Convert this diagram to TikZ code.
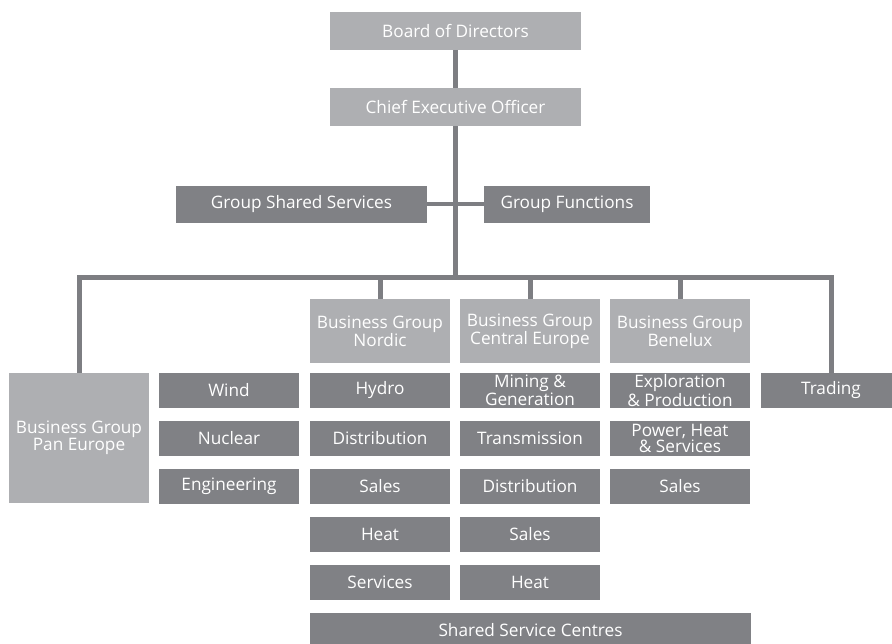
\documentclass[tikz,border=0pt]{standalone}
\usepackage{fontspec}
\setmainfont{Open Sans}
\definecolor{dk}{RGB}{128,129,133}
\definecolor{lt}{RGB}{174,175,178}
\definecolor{ln}{RGB}{125,126,130}
\begin{document}
\begin{tikzpicture}[x=1pt,y=-1pt,
  box/.style={inner sep=0pt, outer sep=0pt, text=white, align=center,
    font=\fontsize{17.2}{15.6}\selectfont, minimum height=35pt, minimum width=140pt},
  dbox/.style={box, fill=dk},
  lbox/.style={box, fill=lt},
  conn/.style={draw=ln, line width=5pt}]
\useasboundingbox (0,0) rectangle (892,644);
\clip (0,0) rectangle (892,644);
% top
\node[lbox, minimum width=251pt, minimum height=38pt] (bod) at (455.5,31) {Board of Directors};
\node[lbox, minimum width=251pt, minimum height=38pt] (ceo) at (455.5,107.5) {Chief Executive Officer};
\node[dbox, minimum width=251pt, minimum height=37pt] (gss) at (301.5,204.5) {Group Shared Services};
\node[dbox, minimum width=166pt, minimum height=37pt] (gf) at (567,204.5) {Group Functions};
\coordinate (bus) at (455.5,278);
% business groups
\node[lbox, minimum height=130pt] (pan) at (79,438) {Business Group\\Pan Europe};
\node[lbox, minimum height=64pt] (nor) at (380,331) {Business Group\\Nordic};
\node[lbox, minimum height=64pt] (cen) at (530,331) {Business Group\\Central Europe};
\node[lbox, minimum height=64pt] (ben) at (680,331) {Business Group\\Benelux};
\node[dbox] (tr) at (831,390.5) {Trading};
% Pan Europe units
\node[dbox] (wind) at (229,390.5) {Wind};
\node[dbox] (nuc) at (229,438.5) {Nuclear};
\node[dbox] (eng) at (229,486.5) {Engineering};
% Nordic units
\node[dbox] (hyd) at (380,390.5) {Hydro};
\node[dbox] (ndis) at (380,438.5) {Distribution};
\node[dbox] (nsal) at (380,486.5) {Sales};
\node[dbox] (nhea) at (380,534.5) {Heat};
\node[dbox] (nser) at (380,582.5) {Services};
% Central Europe units
\node[dbox] (min) at (530,390.5) {Mining \&\\Generation};
\node[dbox] (tra) at (530,438.5) {Transmission};
\node[dbox] (cdis) at (530,486.5) {Distribution};
\node[dbox] (csal) at (530,534.5) {Sales};
\node[dbox] (chea) at (530,582.5) {Heat};
% Benelux units
\node[dbox] (exp) at (680,390.5) {Exploration\\\& Production};
\node[dbox] (pow) at (680,438.5) {Power, Heat\\\& Services};
\node[dbox] (bsal) at (680,486.5) {Sales};
% shared service centres
\node[dbox, minimum width=441pt] (ssc) at (530.5,630.5) {Shared Service Centres};
% connectors
\draw[conn] (bod.south) -- (ceo.north);
\draw[conn] (ceo.south) -- (bus);
\draw[conn, line width=4pt] (gss.east) -- (gf.west);
\draw[conn] (pan.north) -- (pan.north |- bus) -- (tr.north |- bus) -- (tr.north);
\draw[conn] (nor.north) -- (nor.north |- bus);
\draw[conn] (cen.north) -- (cen.north |- bus);
\draw[conn] (ben.north) -- (ben.north |- bus);
\end{tikzpicture}
\end{document}
